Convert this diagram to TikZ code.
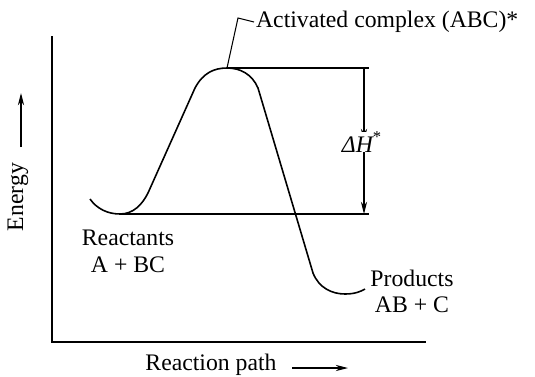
\documentclass[tikz,border=0pt]{standalone}
\usepackage{fontspec}
\setmainfont{Liberation Serif}
\usetikzlibrary{arrows.meta}

\tikzset{
    lbl/.style={inner sep=1pt, font=\fontsize{13.5}{16}\selectfont},
    curveline/.style={line width=0.9pt},
    thinline/.style={line width=0.6pt},
    tip/.style={-{Stealth[length=7pt, width=3.5pt]}}
}

\begin{document}
\begin{tikzpicture}[x=0.02cm, y=-0.02cm]
        \useasboundingbox (0,0) rectangle (535,376);

        % Axes
        \coordinate (top) at (52,36);
        \coordinate (origin) at (52,342);
        \coordinate (right) at (426,342);
        \draw[thinline] (top) -- (origin) -- (right);

        % Curve points
        \coordinate (start) at (90,199);
        \coordinate (rmin) at (120,214);
        \coordinate (rise) at (148,193);
        \coordinate (shoulder) at (195,88);
        \coordinate (peak) at (227,68);
        \coordinate (fall) at (258,88);
        \coordinate (knee) at (313,273);
        \coordinate (pmin) at (345,294);
        \coordinate (finish) at (365,289);

        % Draw curve
        \draw[curveline] (start) .. controls (97,209) and (108,214) .. (rmin)
            .. controls (133,214) and (142,205) .. (rise) -- (shoulder)
            .. controls (203,73) and (214,68) .. (peak)
            .. controls (240,68) and (252,74) .. (fall) -- (knee)
            .. controls (319,288) and (332,294) .. (pmin)
            .. controls (354,294) and (360,292) .. (finish);

        % Levels
        \coordinate (hitop) at (369,68);
        \coordinate (hibot) at (369,214);
        \coordinate (atop) at (364,68);
        \coordinate (abot) at (364,214);
        \draw[thinline] (peak) -- (hitop);
        \draw[thinline] (rmin) -- (hibot);
        \draw[thinline, tip] (atop) -- (364,141);
        \draw[thinline, tip] (364,141) -- (abot);
        \node[lbl, fill=white, inner sep=0pt] (dh) at (362,142) {\itshape ΔH\textsuperscript{\upshape *}};

        % Labels
        \node[lbl, anchor=west] (complex) at (254,22) {Activated complex (ABC)*};
        \coordinate (bend) at (238,18);
        \draw[thinline] (peak) -- (bend) -- (complex.west);

        \node[lbl] (react) at (128,238) {Reactants};
        \node[lbl] (reactab) at (128,265) {A + BC};
        \node[lbl] (prod) at (412,278) {Products};
        \node[lbl] (prodab) at (412,305) {AB + C};

        \node[lbl, rotate=90] (energy) at (18,197) {Energy};
        \coordinate (eup) at (21,93);
        \coordinate (elow) at (21,147);
        \draw[thinline, tip] (elow) -- (eup);

        \node[lbl] (path) at (211,365) {Reaction path};
        \coordinate (pleft) at (292,368);
        \coordinate (pright) at (348,368);
        \draw[thinline, tip] (pleft) -- (pright);
    \end{tikzpicture}
\end{document}
